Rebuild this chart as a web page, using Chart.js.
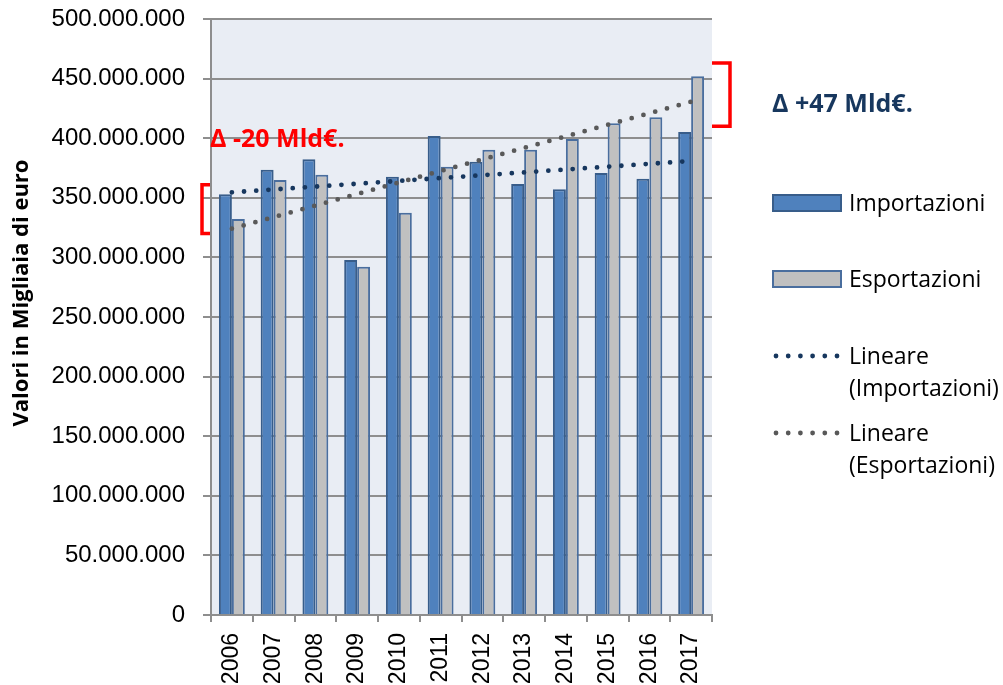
<!DOCTYPE html>
<html lang="it">
<head>
<meta charset="utf-8">
<title>Importazioni ed esportazioni 2006-2017</title>
<script src="https://cdn.jsdelivr.net/npm/chart.js@4.4.1/dist/chart.umd.min.js"></script>
<style>
  html, body { margin: 0; padding: 0; background: #fff; }
  #wrap { width: 1003px; height: 685px; }
</style>
</head>
<body>
<div id="wrap"><canvas id="chart" width="1003" height="685"></canvas></div>
<script>
// ==================== DATA (thousands of euro) ====================

const years = ["2006", "2007", "2008", "2009", "2010", "2011",
               "2012", "2013", "2014", "2015", "2016", "2017"];

const importazioni = [352.9e6, 373.6e6, 382.3e6, 297.8e6, 367.7e6, 401.8e6,
                      380.3e6, 361.6e6, 357.1e6, 370.8e6, 366.0e6, 405.2e6];

const esportazioni = [332.2e6, 364.9e6, 369.4e6, 292.2e6, 337.5e6, 376.1e6,
                      390.4e6, 390.4e6, 399.3e6, 412.5e6, 417.5e6, 451.9e6];

// trend lines: only the two ends are read, the line joins them
const lineareImportazioni = [354.6e6, null, null, null, null, null,
                             null, null, null, null, null, 380.9e6];
const lineareEsportazioni = [324.1e6, null, null, null, null, null,
                             null, null, null, null, null, 430.6e6];

const yMin = 0;
const yMax = 500e6;
const yStep = 50e6;

// brackets with their labels (values on the y axis)
const deltaLabels = ["Δ -20 Mld€.", "Δ +47 Mld€."];
const deltaFrom = [320e6, 410e6];
const deltaTo = [361e6, 463e6];

// ==================== HELPERS ====================

function formatDots(v) {
  return String(Math.round(v)).replace(/\B(?=(\d{3})+(?!\d))/g, ".");
}

const plotBg = {
  id: "plotBg",
  beforeDraw(chart) {
    const { ctx, chartArea: a } = chart;
    ctx.save();
    ctx.fillStyle = "#E9EDF4";
    ctx.fillRect(a.left, a.top, a.right - a.left, a.bottom - a.top);
    ctx.restore();
  },
};

const yTitle = {
  id: "yTitle",
  afterDraw(chart) {
    const { ctx, chartArea: a } = chart;
    ctx.save();
    ctx.translate(22, (a.top + a.bottom) / 2 - 24);
    ctx.rotate(-Math.PI / 2);
    ctx.font = "bold 22px 'Open Sans'";
    ctx.fillStyle = "#000";
    ctx.textAlign = "center";
    ctx.textBaseline = "middle";
    ctx.fillText("Valori in Migliaia di euro", 0, 0, 270);
    ctx.restore();
  },
};

const deltas = {
  id: "deltas",
  afterDraw(chart) {
    const { ctx, chartArea: a } = chart;
    const y = chart.scales.y;
    ctx.save();
    ctx.strokeStyle = "#FF0000";
    ctx.lineWidth = 3.5;
    ctx.lineJoin = "miter";

    // left bracket "["
    let t = y.getPixelForValue(deltaTo[0]);
    let b = y.getPixelForValue(deltaFrom[0]);
    ctx.beginPath();
    ctx.moveTo(a.left - 1, t);
    ctx.lineTo(a.left - 9, t);
    ctx.lineTo(a.left - 9, b);
    ctx.lineTo(a.left - 1, b);
    ctx.stroke();

    // right bracket "]"
    t = y.getPixelForValue(deltaTo[1]);
    b = y.getPixelForValue(deltaFrom[1]);
    ctx.beginPath();
    ctx.moveTo(a.right, t);
    ctx.lineTo(a.right + 18, t);
    ctx.lineTo(a.right + 18, b);
    ctx.lineTo(a.right, b);
    ctx.stroke();

    ctx.font = "bold 25px 'Open Sans'";
    ctx.textBaseline = "alphabetic";
    ctx.textAlign = "left";
    ctx.fillStyle = "#FF0000";
    ctx.fillText(deltaLabels[0], a.left - 1, y.getPixelForValue(deltaTo[0] + 31.5e6));
    ctx.fillStyle = "#17375E";
    ctx.fillText(deltaLabels[1], a.right + 60, y.getPixelForValue(deltaFrom[1] + 12e6));
    ctx.restore();
  },
};

// legend on the right, multi-line labels for the trend lines
const legendRows = [[203], [279], [356, 388], [433, 465]];
const sideLegend = {
  id: "sideLegend",
  afterDraw(chart) {
    const { ctx, chartArea: a } = chart;
    const x0 = a.right + 61;
    ctx.save();
    ctx.font = "23px 'Open Sans'";
    ctx.textAlign = "left";
    ctx.textBaseline = "middle";
    chart.data.datasets.forEach((ds, i) => {
      const rows = legendRows[i];
      const yc = rows[0];
      if (ds.type === "line") {
        ctx.strokeStyle = ds.borderColor;
        ctx.lineWidth = ds.borderWidth;
        ctx.lineCap = "round";
        ctx.setLineDash(ds.borderDash);
        ctx.beginPath();
        ctx.moveTo(x0 + 3, yc);
        ctx.lineTo(x0 + 65, yc);
        ctx.stroke();
        ctx.setLineDash([]);
      } else {
        ctx.fillStyle = ds.backgroundColor;
        ctx.fillRect(x0, yc - 8, 68, 16);
        ctx.strokeStyle = ds.borderColor;
        ctx.lineWidth = 2;
        ctx.strokeRect(x0, yc - 8, 68, 16);
      }
      ctx.fillStyle = "#000";
      const lines = Array.isArray(ds.legendText) ? ds.legendText : [ds.label];
      lines.forEach((txt, k) => ctx.fillText(txt, x0 + 76, rows[k] + 1));
    });
    ctx.restore();
  },
};

// ==================== CHART ====================

const gridGrey = "#8E8E8E";
const dots = [0, 12.2];

new Chart(document.getElementById("chart"), {
  type: "bar",
  data: {
    labels: years,
    datasets: [
      {
        label: "Importazioni",
        data: importazioni,
        backgroundColor: "#4F81BD",
        borderColor: "#385D8A",
        borderWidth: 2,
        order: 2,
      },
      {
        label: "Esportazioni",
        data: esportazioni,
        backgroundColor: "#C0C0C0",
        borderColor: "#4A6E9E",
        borderWidth: 2,
        order: 2,
      },
      {
        type: "line",
        label: "Lineare (Importazioni)",
        legendText: ["Lineare", "(Importazioni)"],
        data: lineareImportazioni,
        borderColor: "#17375E",
        borderWidth: 4.8,
        borderDash: dots,
        borderCapStyle: "round",
        spanGaps: true,
        pointRadius: 0,
        fill: false,
        order: 1,
      },
      {
        type: "line",
        label: "Lineare (Esportazioni)",
        legendText: ["Lineare", "(Esportazioni)"],
        data: lineareEsportazioni,
        borderColor: "#595959",
        borderWidth: 4.8,
        borderDash: dots,
        borderCapStyle: "round",
        spanGaps: true,
        pointRadius: 0,
        fill: false,
        order: 0,
      },
    ],
  },
  options: {
    responsive: false,
    animation: false,
    layout: { padding: { top: 19, right: 291, left: 0, bottom: 0 } },
    datasets: {
      bar: { categoryPercentage: 0.62, barPercentage: 1.0 },
    },
    plugins: {
      legend: { display: false },
      tooltip: { enabled: false },
    },
    scales: {
      x: {
        afterFit(scale) { scale.height = 70; },
        grid: {
          offset: true,
          drawOnChartArea: false,
          drawTicks: true,
          tickLength: 7,
          color: gridGrey,
          lineWidth: 2,
        },
        border: { color: gridGrey, width: 2 },
        ticks: {
          minRotation: 90,
          maxRotation: 90,
          padding: 11,
          color: "#000",
          font: { family: "'Liberation Sans', Arial", size: 23 },
        },
      },
      y: {
        min: yMin,
        max: yMax,
        afterFit(scale) {
          scale.width = 211;
          scale.paddingTop = 0;
          scale.paddingBottom = 0;
        },
        grid: {
          color: gridGrey,
          lineWidth: 2,
          drawTicks: true,
          tickLength: 8,
        },
        border: { color: gridGrey, width: 2 },
        ticks: {
          stepSize: yStep,
          padding: 18,
          color: "#000",
          font: { family: "'Liberation Sans', Arial", size: 24 },
          callback: (v) => formatDots(v),
        },
      },
    },
  },
  plugins: [plotBg, yTitle, deltas, sideLegend],
});
</script>
</body>
</html>
